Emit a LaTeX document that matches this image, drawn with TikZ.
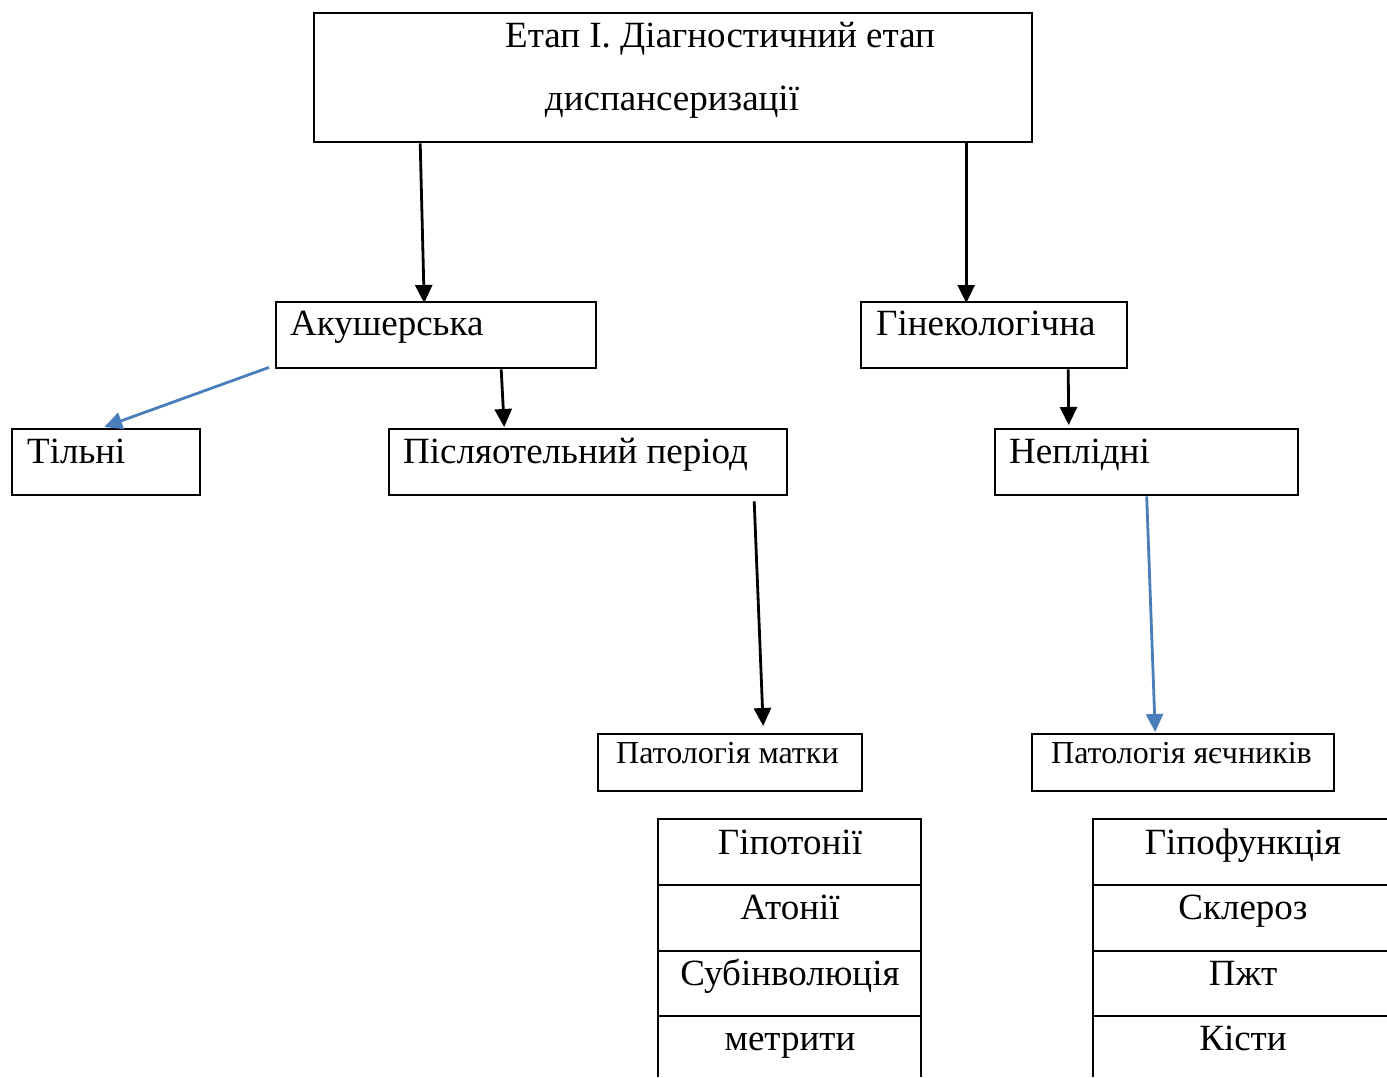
\documentclass[tikz,border=0pt]{standalone}
\usepackage{fontspec}
\setmainfont{Liberation Serif}
\usetikzlibrary{arrows.meta}
\definecolor{arrblue}{HTML}{4A7EBB}
\tikzset{
  box/.style={draw=black, line width=2.4pt, inner sep=0pt, anchor=north west},
  big/.style={font=\fontsize{37}{40}\selectfont, inner sep=0pt, anchor=base west},
  small/.style={font=\fontsize{32}{34}\selectfont, inner sep=0pt, anchor=base west},
  cell/.style={font=\fontsize{37}{40}\selectfont, inner sep=0pt, anchor=base},
  arr/.style={line width=2.8pt, -{Triangle[length=18pt,width=17pt]}},
  barr/.style={arr, draw=arrblue, -{Triangle[length=18pt,width=17pt,fill=arrblue]}},
  tline/.style={line width=2.4pt}
}
\begin{document}
\begin{tikzpicture}[x=1pt,y=-1pt]
\useasboundingbox (0,0) rectangle (1387,1077);
% boxes
\node[box, minimum width=718pt, minimum height=129pt] (top) at (313,12) {};
\node[big] (t1) at (505,47) {Етап І. Діагностичний етап};
\node[big, anchor=base] (t2) at (672,110) {диспансеризації};

\node[box, minimum width=320pt, minimum height=66pt] (aku) at (275,301) {};
\node[big] (akut) at (290,335) {Акушерська};
\node[box, minimum width=266pt, minimum height=66pt] (gin) at (860,301) {};
\node[big] (gint) at (876,335) {Гінекологічна};

\node[box, minimum width=188pt, minimum height=66pt] (til) at (11,428) {};
\node[big] (tilt) at (27,463) {Тільні};
\node[box, minimum width=398pt, minimum height=66pt] (pis) at (388,428) {};
\node[big] (pist) at (403,463) {Післяотельний період};
\node[box, minimum width=303pt, minimum height=66pt] (nep) at (994,428) {};
\node[big] (nept) at (1009,463) {Неплідні};

\node[box, minimum width=264pt, minimum height=57pt] (pm) at (597,733) {};
\node[small] (pmt) at (616,763) {Патологія матки};
\node[box, minimum width=302pt, minimum height=57pt] (py) at (1031,733) {};
\node[small] (pyt) at (1051,763) {Патологія яєчників};

% left table
\coordinate (L1) at (658,819);
\coordinate (L2) at (921,819);
\draw[tline] (658,1077) -- (L1) -- (L2) -- (921,1077);
\draw[tline] (658,885) -- (921,885);
\draw[tline] (658,951) -- (921,951);
\draw[tline] (658,1016) -- (921,1016);
\node[cell] (c1) at (790,854) {Гіпотонії};
\node[cell] (c2) at (790,919) {Атонії};
\node[cell] (c3) at (790,985) {Субінволюція};
\node[cell] (c4) at (790,1050) {метрити};

% right table
\coordinate (R1) at (1093,819);
\draw[tline] (1093,1077) -- (R1) -- (1387,819);
\draw[tline] (1093,885) -- (1387,885);
\draw[tline] (1093,951) -- (1387,951);
\draw[tline] (1093,1016) -- (1387,1016);
\node[cell] (d1) at (1243,854) {Гіпофункція};
\node[cell] (d2) at (1243,919) {Склероз};
\node[cell] (d3) at (1243,985) {Пжт};
\node[cell] (d4) at (1243,1050) {Кісти};

% arrows
\draw[arr] ([xshift=-253pt]top.south) -- ([xshift=-12pt,yshift=-2pt]aku.north);
\draw[arr] ([xshift=293pt]top.south) -- ([xshift=-28pt,yshift=-2pt]gin.north);
\draw[barr] ([xshift=-6pt,yshift=2pt]aku.south west) -- ([xshift=-2pt,yshift=1pt]til.north);
\draw[arr] ([xshift=65pt]aku.south) -- ([xshift=-84pt,yshift=1pt]pis.north);
\draw[arr] ([xshift=74pt]gin.south) -- ([xshift=-78pt,yshift=3pt]nep.north);
\draw[arr] ([xshift=166pt,yshift=-5pt]pis.south) -- ([xshift=33pt,yshift=7pt]pm.north);
\draw[barr] ([xshift=0pt]nep.south) -- ([xshift=-28pt,yshift=1pt]py.north);
\end{tikzpicture}
\end{document}
